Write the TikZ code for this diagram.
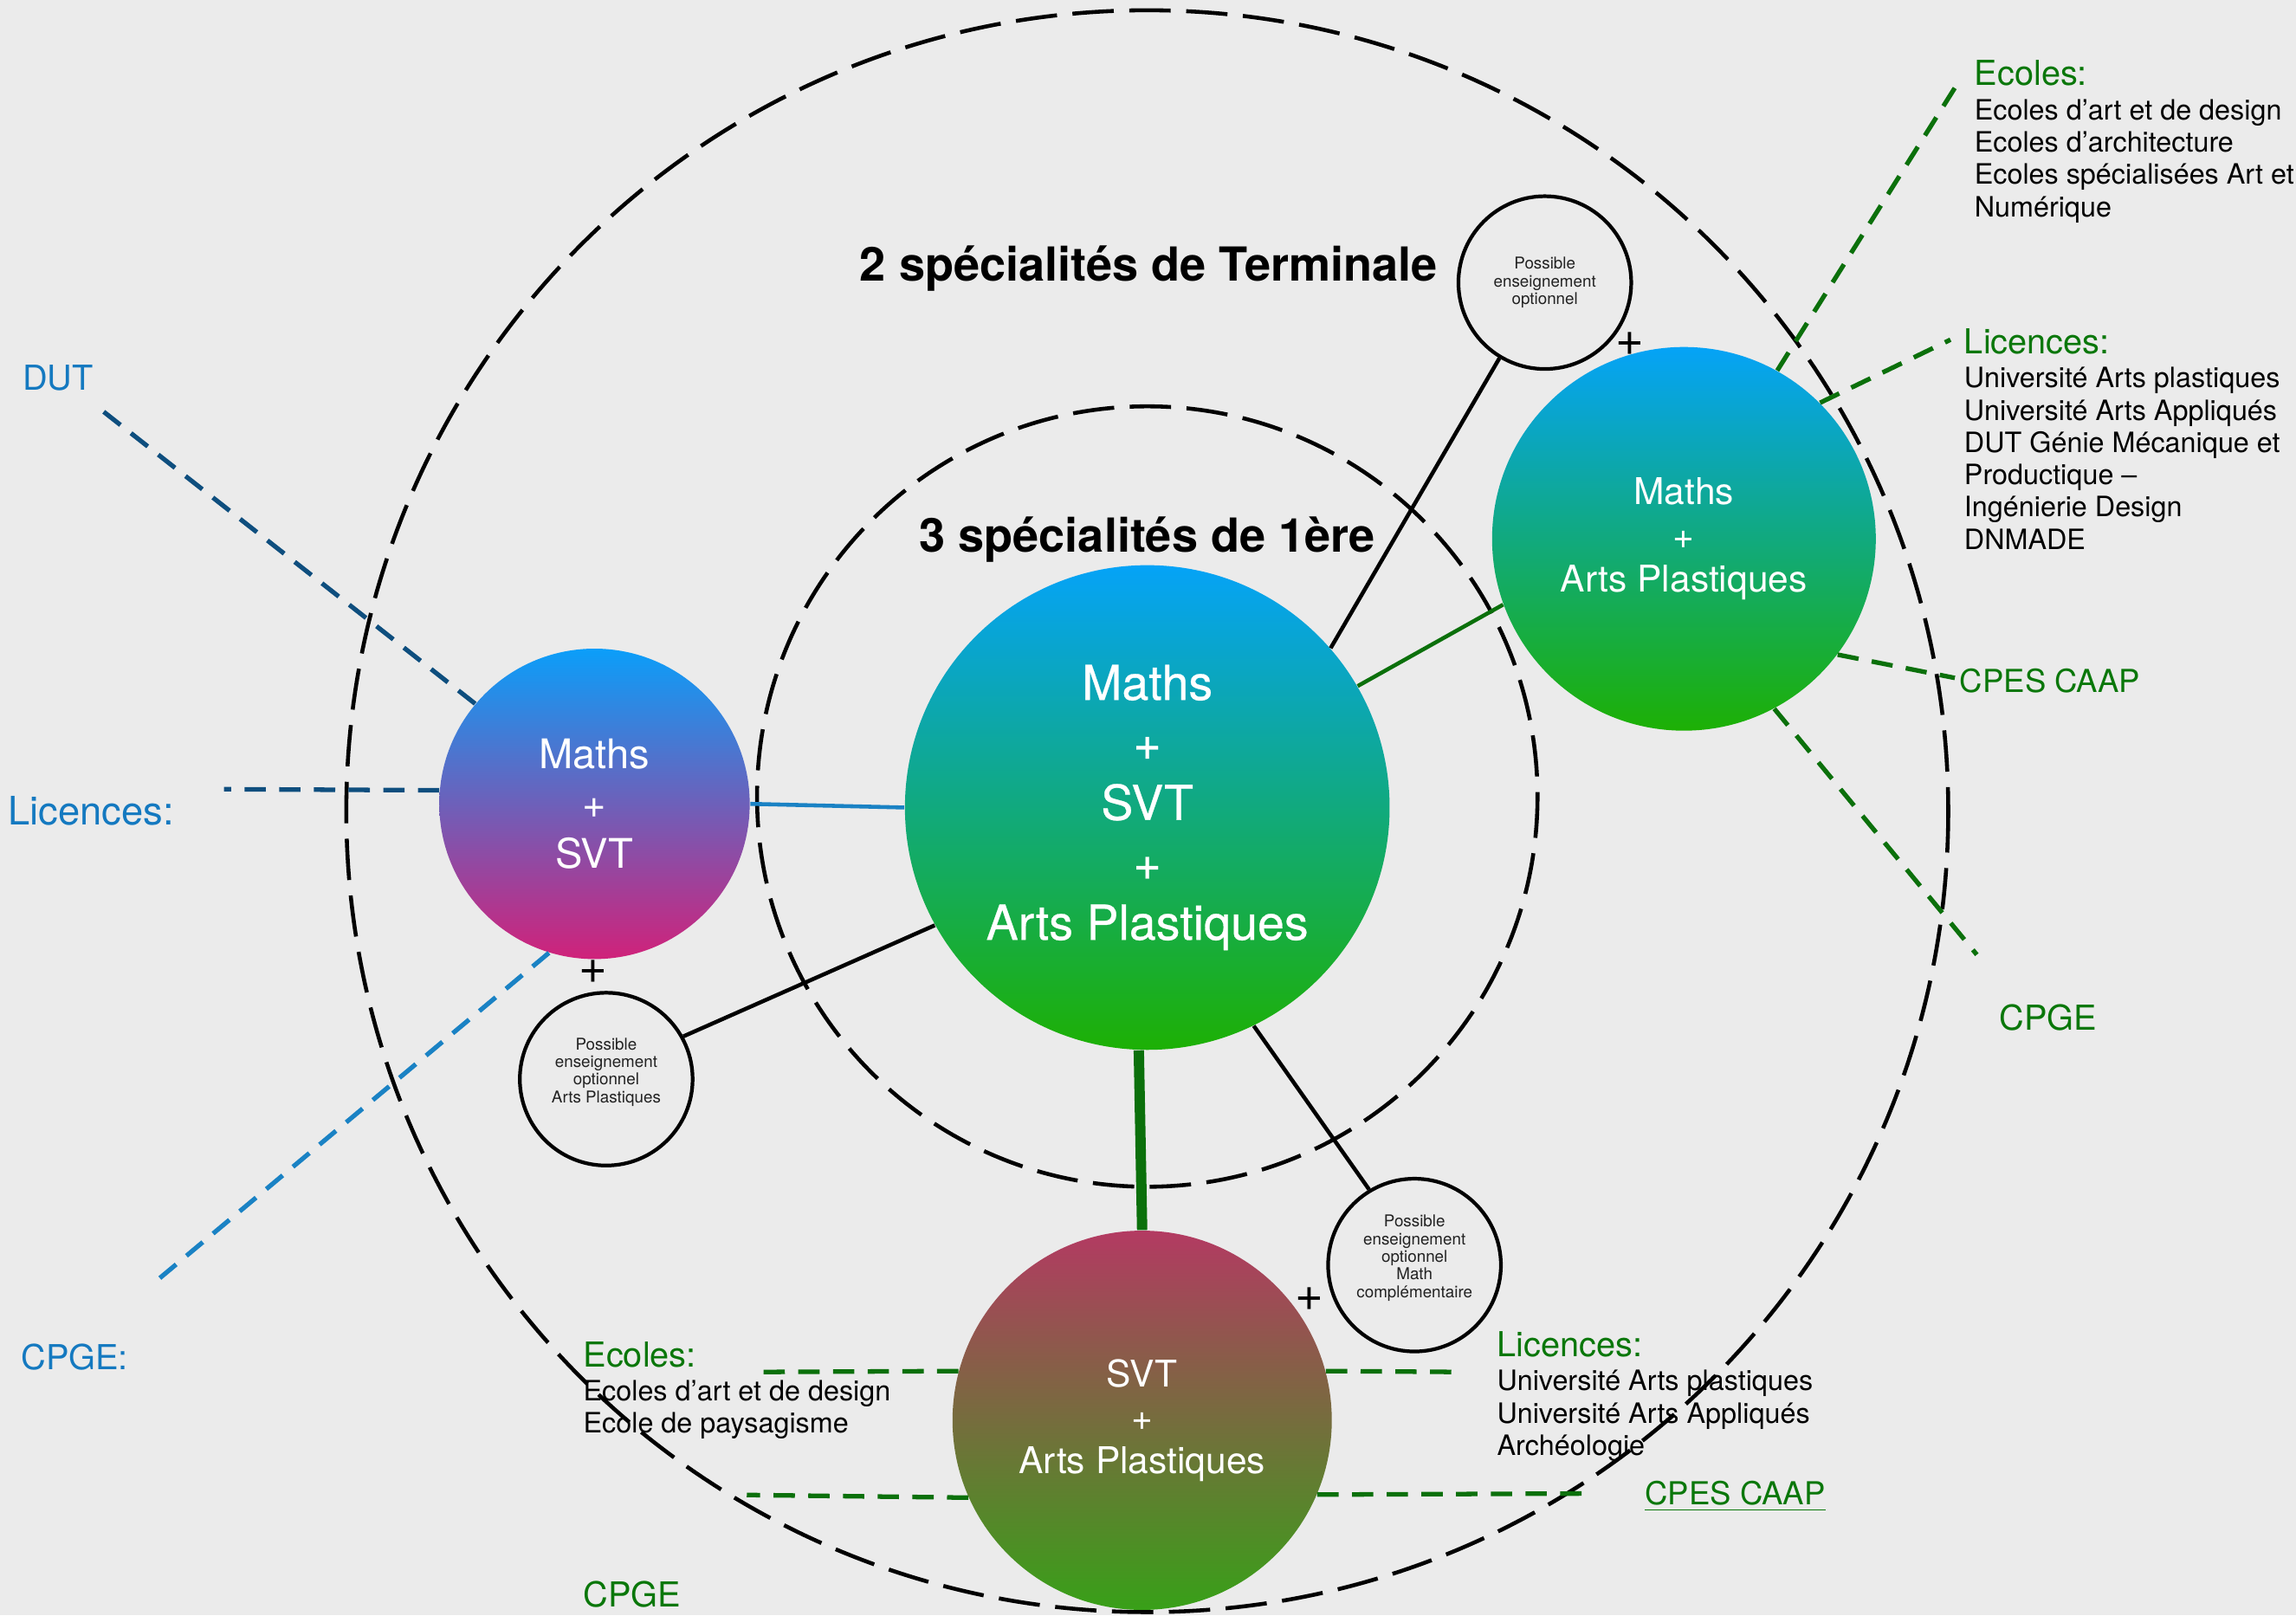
\documentclass[tikz,border=0pt]{standalone}
\usepackage{fontspec}
\setmainfont{TeX Gyre Heros}
\newfontfamily\medium[FakeBold=0.5]{TeX Gyre Heros}
\usepackage{xcolor}
\usepackage{tikz}
\usetikzlibrary{positioning}

\definecolor{fond}{HTML}{EBEBEB}
\definecolor{ciel}{HTML}{05A3F7}
\definecolor{herbe}{HTML}{1DB004}
\definecolor{azur}{HTML}{0B9EF9}
\definecolor{fuchsia}{HTML}{D0227A}
\definecolor{carmin}{HTML}{B33A62}
\definecolor{olive}{HTML}{38A018}
\definecolor{bleuFonce}{HTML}{0E4E7E}
\definecolor{bleuClair}{HTML}{1A82C4}
\definecolor{bleuTexte}{HTML}{1479C0}
\definecolor{vert}{HTML}{0A770A}
\definecolor{vertTrait}{HTML}{0B700B}
\definecolor{encre}{HTML}{222222}

\tikzset{
  tirets/.style={black, line width=1.3pt, dash pattern=on 13.6pt off 5.1pt},
  bulle/.style={circle, inner sep=0pt, text=white, align=center},
  petit/.style={circle, draw, line width=1.2pt, inner sep=0pt, minimum size=19.95mm,
    align=center, text=encre, font=\fontsize{5.35}{5.8}\selectfont},
  lien/.style={line width=1.3pt},
  pointille/.style={line width=1.5pt, dash pattern=on 7pt off 4.4pt},
  titre/.style={anchor=base, inner sep=0pt, font=\bfseries\fontsize{15.4}{18}\selectfont},
  etiquette/.style={anchor=west, inner sep=0pt, font=\fontsize{11.3}{13}\selectfont},
  liste/.style={align=left, inner sep=0pt, text=black, font=\fontsize{9.2}{10.6}\selectfont},
  plus/.style={inner sep=0pt, font=\fontsize{16}{18}\selectfont},
}

\begin{document}
\begin{tikzpicture}[x=0.16907mm, y=-0.16907mm]
\fill[fond] (0,0) rectangle (1568,1103.1);
\useasboundingbox (0,0) rectangle (1568,1103.1);

\draw[tirets] (783.5,554) circle (547);
\draw[tirets] (783.5,544) circle (266.5);

    \node[titre] at (784.5,192) {2 spécialités de Terminale};
    \node[titre] at (783.5,377) {3 spécialités de 1ère};

    % les spécialités
    \node[bulle, minimum size=55.96mm, top color=ciel, bottom color=herbe,
      font=\medium\fontsize{15.8}{19.7}\selectfont] (trio) at (783.5,551.5) {Maths\\+\\SVT\\+\\Arts Plastiques};
    \node[bulle, minimum size=35.84mm, top color=azur, bottom color=fuchsia,
      font=\fontsize{13.4}{16.4}\selectfont] (ms) at (406,549) {Maths\\+\\SVT};
    \node[bulle, minimum size=44.3mm, top color=ciel, bottom color=herbe,
      font=\fontsize{12.1}{14.4}\selectfont] (map) at (1150,368) {Maths\\+\\Arts Plastiques};
    \node[bulle, minimum size=43.79mm, top color=carmin, bottom color=olive,
      font=\fontsize{12.1}{14.2}\selectfont] (sap) at (780,970) {SVT\\+\\Arts Plastiques};

    \node[petit] (optT) at (1055,193) {Possible\\enseignement\\optionnel};
    \node[petit] (optAP) at (414,737) {Possible\\enseignement\\optionnel\\Arts Plastiques\\ \mbox{}};
    \node[petit] (optMC) at (966,864) {Possible\\enseignement\\optionnel\\Math\\complémentaire\\ \mbox{}};

    \node[plus] at (1113,235) {+};
    \node[plus] at (405,664) {+};
    \node[plus] at (894,887) {+};

    % les liens
    \draw[lien, bleuClair] (ms.0) -- (trio.180);
    \draw[lien, vertTrait] (trio.30) -- (map.200);
    \draw[vertTrait, line width=3.4pt] (trio.268) -- (sap.90);
    \draw[lien] (trio.41) -- (optT.239);
    \draw[lien] (trio.209) -- (optAP.29);
    \draw[lien] (trio.296) -- (optMC.121);

    % les débouchés
    \coordinate (dut) at (68,279);
    \coordinate (licG) at (153,539);
    \coordinate (cpgeG) at (103,878);
    \coordinate (ecolesD) at (1335,60);
    \coordinate (licD) at (1332,232);
    \coordinate (cpesD) at (1335,463);
    \coordinate (cpgeD) at (1350,652);
    \coordinate (ecolesB) at (520,937);
    \coordinate (cpgeB) at (510,1021);
    \coordinate (licB) at (995,937);
    \coordinate (cpesB) at (1088,1020);

    \draw[pointille, bleuFonce] (ms.140) -- (dut);
    \draw[pointille, bleuFonce] (ms.175) -- (licG);
    \draw[pointille, bleuClair] (ms.253) -- (cpgeG);
    \draw[pointille, vertTrait] (map.61) -- (ecolesD);
    \draw[pointille, vertTrait] (map.45) -- (licD);
    \draw[pointille, vertTrait] (map.323) -- (cpesD);
    \draw[pointille, vertTrait] (map.298) -- (cpgeD);
    \draw[pointille, vertTrait] (sap.165) -- (ecolesB);
    \draw[pointille, vertTrait] (sap.204) -- (cpgeB);
    \draw[pointille, vertTrait] (sap.15) -- (licB);
    \draw[pointille, vertTrait] (sap.337) -- (cpesB);

    \node[etiquette, bleuTexte] (dutL) at (15,258) {DUT};
    \node[etiquette, bleuTexte, font=\fontsize{12.9}{15}\selectfont] (licGL) at (5,554) {Licences:};
    \node[etiquette, bleuTexte] (cpgeGL) at (14,927) {CPGE:};

    \node[etiquette, vert] (ecolesDL) at (1348,50) {Ecoles:};
    \node[liste, below right=4pt and 0pt of ecolesDL.south west] {Ecoles d’art et de design\\Ecoles d’architecture\\Ecoles spécialisées Art et\\Numérique};
    \node[etiquette, vert] (licDL) at (1341,233) {Licences:};
    \node[liste, below right=4pt and 0pt of licDL.south west] {Université Arts plastiques\\Université Arts Appliqués\\DUT Génie Mécanique et\\Productique –\\Ingénierie Design\\DNMADE};
    \node[etiquette, vert, font=\fontsize{10.4}{12}\selectfont] (cpesDL) at (1338,465) {CPES CAAP};
    \node[etiquette, vert] (cpgeDL) at (1365,695) {CPGE};

    \node[etiquette, vert] (ecolesBL) at (398,925) {Ecoles:};
    \node[liste, below right=4pt and 0pt of ecolesBL.south west] {Ecoles d’art et de design\\Ecole de paysagisme};
    \node[etiquette, vert] (cpgeBL) at (398,1089) {CPGE};
    \node[etiquette, vert] (licBL) at (1022,918) {Licences:};
    \node[liste, below right=4pt and 0pt of licBL.south west] {Université Arts plastiques\\Université Arts Appliqués\\Archéologie};
    \node[etiquette, vert, font=\fontsize{10.4}{12}\selectfont] (cpesBL) at (1123,1022) {\underline{CPES CAAP}};

\end{tikzpicture}
\end{document}
